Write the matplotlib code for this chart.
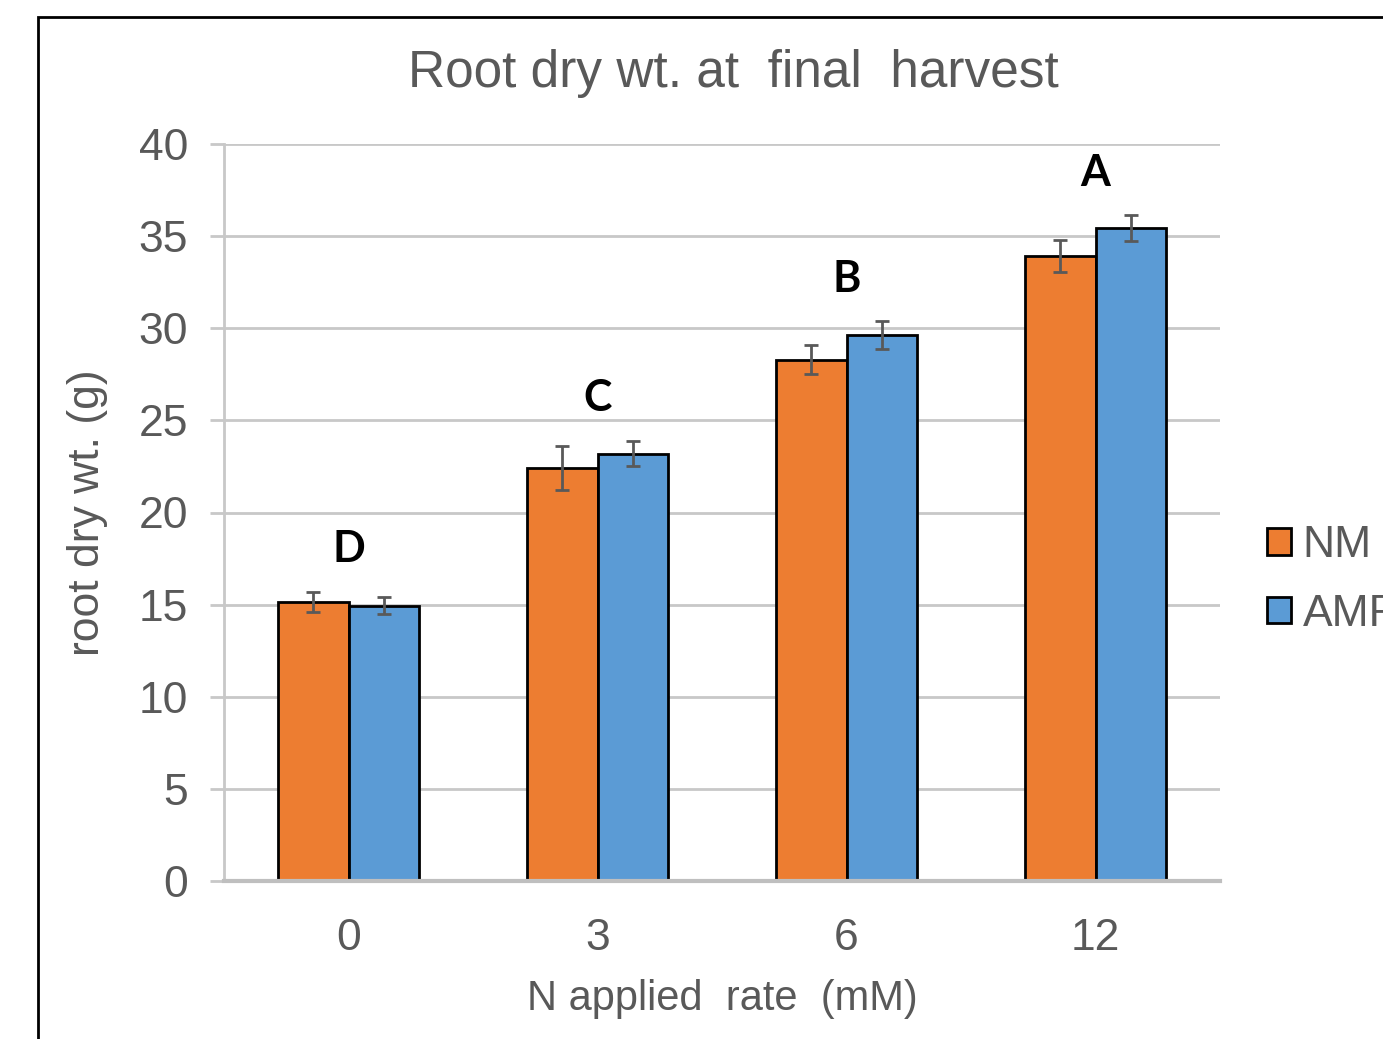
import numpy as np
import matplotlib.pyplot as plt
from matplotlib.patches import Rectangle

# values
rates = ['0', '3', '6', '12']
nm_mean = [15.15, 22.4, 28.3, 33.9]
nm_err = [0.55, 1.2, 0.8, 0.87]
amf_mean = [14.95, 23.2, 29.65, 35.45]
amf_err = [0.45, 0.7, 0.75, 0.7]
letters = ['D', 'C', 'B', 'A']

orange = '#ED7D31'
blue = '#5B9BD5'
txt_gray = '#595959'
grid_gray = '#C8C8C8'

plt.rcParams['font.family'] = ['Liberation Sans', 'DejaVu Sans']

fig = plt.figure(figsize=(13.83, 10.39), dpi=100)
ax = fig.add_axes([224/1383, 158/1039, 996/1383, 737/1039])

x = np.arange(len(rates))
w = 0.285
ax.bar(x - w/2, nm_mean, w, color=orange, edgecolor='black', linewidth=2, label='NM', zorder=3)
ax.bar(x + w/2, amf_mean, w, color=blue, edgecolor='black', linewidth=2, label='AMF', zorder=3)
ax.errorbar(x - w/2, nm_mean, yerr=nm_err, fmt='none', ecolor=txt_gray, elinewidth=2,
            capsize=5, capthick=2, zorder=4)
ax.errorbar(x + w/2, amf_mean, yerr=amf_err, fmt='none', ecolor=txt_gray, elinewidth=2,
            capsize=5, capthick=2, zorder=4)

# significance letters above each group
for i, let in enumerate(letters):
    top = max(nm_mean[i] + nm_err[i], amf_mean[i] + amf_err[i])
    ax.text(x[i], top + 2.3, let, ha='center', va='center', fontsize=31,
            fontweight='bold', family=['Lato', 'DejaVu Sans'], color='black')

ax.set_xlim(-0.5, 3.5)
ax.set_ylim(0, 40)
ax.set_yticks(np.arange(0, 41, 5))
ax.set_xticks(x)
ax.set_xticklabels(rates)
ax.yaxis.grid(True, color=grid_gray, linewidth=2, zorder=0)
ax.set_axisbelow(True)

for s in ['top', 'right']:
    ax.spines[s].set_visible(False)
ax.spines['left'].set_color(grid_gray)
ax.spines['left'].set_linewidth(2)
ax.spines['bottom'].set_color('#BFBFBF')
ax.spines['bottom'].set_linewidth(3)
ax.spines['bottom'].set_zorder(5)

ax.tick_params(axis='y', direction='out', length=10, width=2, color=grid_gray,
               labelsize=32, labelcolor=txt_gray, pad=16)
ax.tick_params(axis='x', length=0, labelsize=32, labelcolor=txt_gray, pad=27)

fig.text(733/1383, 1 - 74/1039, 'Root dry wt. at  final  harvest', fontsize=37, color=txt_gray,
         ha='center', va='center')
ax.set_ylabel('root dry wt. (g)', fontsize=32, color=txt_gray, labelpad=22)
ax.set_xlabel('N applied  rate  (mM)', fontsize=30, color=txt_gray, labelpad=14)

ax.legend(loc='center left', bbox_to_anchor=(1267/1383, 1 - 580/1039), bbox_transform=fig.transFigure,
          frameon=False, fontsize=32, labelcolor=txt_gray, handlelength=0.55, handleheight=0.55,
          handletextpad=0.25, labelspacing=0.62, borderaxespad=0, borderpad=0)

# black frame around the chart, running off the right and bottom edges
fig.add_artist(Rectangle((38/1383, -0.1), 1.2, (1039 - 17)/1039 + 0.1, transform=fig.transFigure,
                         fill=False, edgecolor='black', linewidth=2))

fig.savefig('out.png', dpi=100)
